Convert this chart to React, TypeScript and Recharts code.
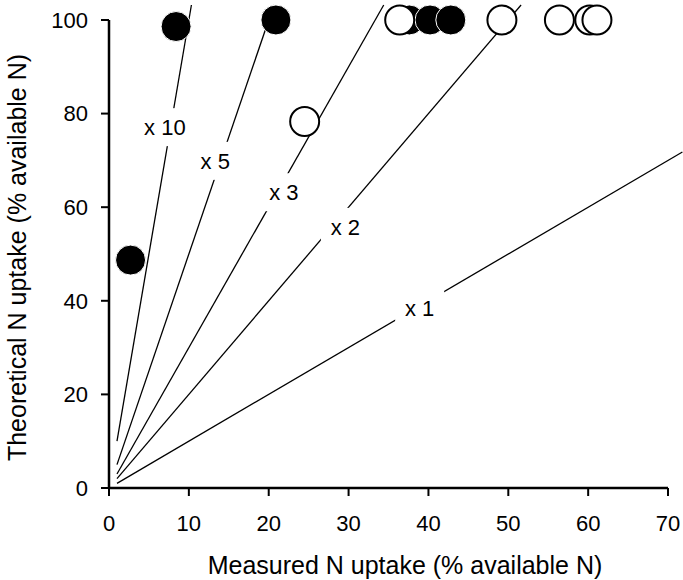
import {
  ScatterChart,
  Scatter,
  XAxis,
  YAxis,
  ReferenceLine,
} from "recharts";

// measured points (filled = black discs, open = white discs)
const FILLED_X = [2.7, 8.4, 20.9, 37.6, 40.2, 42.8];
const FILLED_Y = [48.7, 98.6, 100, 100, 100, 100];
const OPEN_X = [24.5, 36.4, 49.2, 56.4, 60.2, 61.1];
const OPEN_Y = [78.3, 100, 100, 100, 100, 100];

const LINE_START_X = [1, 1, 1, 1, 1];
const LINE_START_Y = [10, 5, 3, 2, 1];
const LINE_END_X = [10.32, 20.64, 34.4, 51.6, 71.8];
const LINE_END_Y = [103.2, 103.2, 103.2, 103.2, 71.8];

// line labels
const LABEL_TEXT = ["x 10", "x 5", "x 3", "x 2", "x 1"];
const LABEL_X = [7.0, 13.3, 21.9, 29.6, 38.9];
const LABEL_Y = [77.1, 69.9, 63.2, 55.8, 38.5];

const X_TICKS = [0, 10, 20, 30, 40, 50, 60, 70];
const Y_TICKS = [0, 20, 40, 60, 80, 100];

const FONT = "'Liberation Sans', Arial, Helvetica, sans-serif";
const FS = 22;
const TITLE_FS = 25;

const filled = FILLED_X.map((x, i) => ({ x, y: FILLED_Y[i] }));
const open = OPEN_X.map((x, i) => ({ x, y: OPEN_Y[i] }));
const lines = LINE_START_X.map((x, i) => [
  { x, y: LINE_START_Y[i] },
  { x: LINE_END_X[i], y: LINE_END_Y[i] },
]);
const labels = LABEL_TEXT.map((text, i) => ({ x: LABEL_X[i], y: LABEL_Y[i], text }));

const NoDot = () => <g />;

const FilledDot = (p: any) => (
  <circle cx={p.cx} cy={p.cy} r={15} fill="#000" stroke="#fff" strokeWidth={1} />
);

const OpenDot = (p: any) => (
  <circle cx={p.cx} cy={p.cy} r={14.5} fill="#fff" stroke="#000" strokeWidth={2} />
);

const LineLabel = (p: any) => {
  const text: string = p.payload.text;
  const w = text.length * 11 + 16;
  return (
    <g>
      <rect x={p.cx - w / 2} y={p.cy - 19} width={w} height={38} fill="#fff" />
      <text
        x={p.cx}
        y={p.cy + 8}
        textAnchor="middle"
        fontSize={FS}
        fontFamily={FONT}
        fill="#000"
      >
        {text}
      </text>
    </g>
  );
};

const XTitle = (p: any) => {
  const vb = p.viewBox;
  return (
    <text
      x={vb.x + vb.width / 2 + 9}
      y={vb.y + 86}
      textAnchor="middle"
      fontSize={TITLE_FS}
      fontFamily={FONT}
      fill="#000"
    >
      Measured N uptake (% available N)
    </text>
  );
};

const YTitle = (p: any) => {
  const vb = p.viewBox;
  const cx = 26;
  const cy = vb.y + vb.height / 2 + 11;
  return (
    <text
      x={cx}
      y={cy}
      transform={`rotate(-90, ${cx}, ${cy})`}
      textAnchor="middle"
      fontSize={TITLE_FS}
      fontFamily={FONT}
      fill="#000"
    >
      Theoretical N uptake (% available N)
    </text>
  );
};

export default function App() {
  return (
    <div style={{ position: "absolute", left: 0, top: 0, background: "#fff" }}>
      <ScatterChart
        width={683}
        height={580}
        margin={{ top: 5, right: 0, bottom: 0, left: 0 }}
      >
        <XAxis
          type="number"
          dataKey="x"
          domain={[0, 71.875]}
          ticks={X_TICKS}
          axisLine={false}
          tickLine={{ stroke: "#000", strokeWidth: 2 }}
          tickSize={8}
          tickMargin={19}
          tick={{ fill: "#000", fontSize: FS, fontFamily: FONT }}
          height={92}
          label={<XTitle />}
        />
        <YAxis
          type="number"
          dataKey="y"
          domain={[0, 103.2]}
          ticks={Y_TICKS}
          axisLine={false}
          tickLine={{ stroke: "#000", strokeWidth: 2 }}
          tickSize={8}
          tickMargin={13}
          tick={{ fill: "#000", fontSize: FS, fontFamily: FONT }}
          width={109}
          label={<YTitle />}
        />
        <ReferenceLine
          segment={[{ x: 0, y: 0 }, { x: 70, y: 0 }]}
          stroke="#000"
          strokeWidth={2.5}
        />
        <ReferenceLine
          segment={[{ x: 0, y: 0 }, { x: 0, y: 100 }]}
          stroke="#000"
          strokeWidth={2.5}
        />
        {lines.map((d, i) => (
          <Scatter
            key={`line-${i}`}
            data={d}
            line={{ stroke: "#000", strokeWidth: 1.3 }}
            shape={NoDot}
            isAnimationActive={false}
          />
        ))}
        <Scatter data={labels} shape={LineLabel} isAnimationActive={false} />
        <Scatter data={filled} shape={FilledDot} isAnimationActive={false} />
        <Scatter data={open} shape={OpenDot} isAnimationActive={false} />
      </ScatterChart>
    </div>
  );
}
